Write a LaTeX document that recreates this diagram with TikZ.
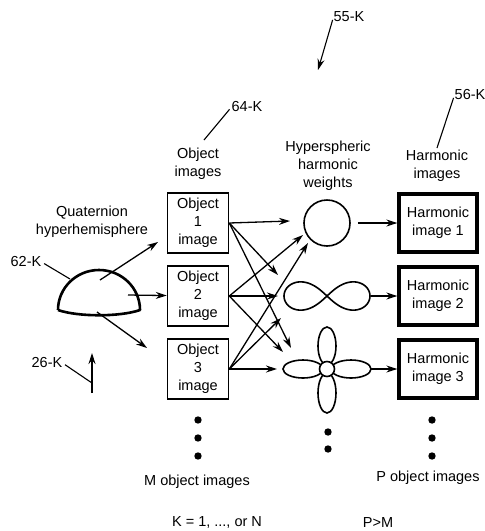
\documentclass[tikz,border=0pt]{standalone}
\usepackage{fontspec}
\setmainfont{Liberation Sans}
\usetikzlibrary{positioning}
\usetikzlibrary{arrows.meta}
\tikzset{
    x=1pt, y=-1pt,
    node distance=73pt,
    >={Stealth[length=11pt,width=7pt]},
    every node/.append style={
        font=\fontsize{14.5}{18}\selectfont,
        align=center,
        inner sep=0pt
    },
    objbox/.style={
        draw,
        line width=1.6pt,
        minimum width=61pt,
        minimum height=60pt
    },
    harmbox/.style={
        draw,
        line width=3.3pt,
        minimum width=78pt,
        minimum height=58pt
    },
    weight/.style={
        minimum width=88pt,
        minimum height=30pt
    },
    every edge/.append style={
        draw,
        ->,
        line width=1.3pt
    },
    leader/.style={
        line width=1.1pt,
        shorten <=3pt
    }
}

\begin{document}
\begin{tikzpicture}
    \useasboundingbox (0,0) rectangle (485,531);

    % object images
    \node[objbox] (o1) at (198,223) {Object\\1\\image};
    \node[objbox, below of=o1] (o2) {Object\\2\\image};
    \node[objbox, below of=o2] (o3) {Object\\3\\image};
    \node (objlabel) at (198,164) {Object\\images};

    % hyperspheric harmonic weights
    \node[draw, circle, minimum size=46pt, line width=1.6pt] (w1) at (327,223) {};
    \node[weight, below of=w1] (w2) {};
    \node[weight, minimum height=88pt, below of=w2] (w3) {};
    \node (wlabel) at (328,166) {Hyperspheric\\harmonic\\weights};

    \draw[line width=1.6pt, shift={(w2.center)}]
        plot[domain=0:357, samples=120, smooth cycle]
        ({43*cos(\x)/(1+sin(\x)*sin(\x))}, {40*sin(\x)*cos(\x)/(1+sin(\x)*sin(\x))});

    \begin{scope}[shift={(w3.center)}, line width=1.6pt]
        \draw[fill=white] (24pt,0pt) ellipse (20pt and 9pt);
        \draw[fill=white] (-24pt,0pt) ellipse (20pt and 9pt);
        \draw[fill=white] (0pt,23pt) ellipse (9pt and 19pt);
        \draw[fill=white] (0pt,-24pt) ellipse (9pt and 20pt);
        \draw[fill=white] (0pt,0pt) circle (7.5pt);
    \end{scope}

    % harmonic images
    \node[harmbox] (hm1) at (438,223) {Harmonic\\image 1};
    \node[harmbox, below of=hm1] (hm2) {Harmonic\\image 2};
    \node[harmbox, below of=hm2] (hm3) {Harmonic\\image 3};
    \node (hmlabel) at (437,166) {Harmonic\\images};

    % quaternion hyperhemisphere
    \draw[line width=2.6pt, line join=round]
        (58,310) arc[start angle=180, end angle=0, x radius=41pt, y radius=40pt]
        .. controls (120,317) and (78,317) .. (58,310);
    \node (qlabel) at (92,222) {Quaternion\\hyperhemisphere};

    \coordinate (qa) at (100,280);
    \coordinate (qb) at (128,295);
    \coordinate (qc) at (97,312);
    \coordinate (oa) at (158,242);
    \coordinate (oc) at (147,348);
    \draw (qa) edge (oa);
    \draw (qb) edge (o2);
    \draw (qc) edge (oc);

    % object images to weights
    \coordinate (w1a) at (290,221);
    \coordinate (w1b) at (303,235);
    \coordinate (w1c) at (308,243);
    \coordinate (w2a) at (278,275);
    \coordinate (w2b) at (278,296);
    \coordinate (w2c) at (281,318);
    \coordinate (w3a) at (291,348);
    \coordinate (w3b) at (283,352);
    \coordinate (w3c) at (277,369);
    \draw (o1.east) edge (w1a) edge (w2a) edge (w3a);
    \draw (o2.east) edge (w1b) edge (w2b) edge (w3b);
    \draw (o3.east) edge (w1c) edge (w2c) edge (w3c);

    % weights to harmonic images
    \draw (w1) edge[shorten <=7pt] (hm1);
    \draw (w2) edge (hm2);
    \draw (w3) edge (hm3);

    % reference numerals
    \node (l55) at (349,17) {55-K};
    \coordinate (p55) at (318,70);
    \draw (l55.west) edge[shorten <=3pt, line width=1.1pt] (p55);

    \node (l64) at (247,107) {64-K};
    \coordinate (p64) at (204,140);
    \draw[leader] (l64.west) -- (p64);

    \node (l56) at (470,95) {56-K};
    \coordinate (p56) at (437,148);
    \draw[leader] (l56.west) -- (p56);

    \node (l62) at (26,262) {62-K};
    \coordinate (p62) at (70,279);
    \draw[leader] (l62.east) -- (p62);

    \node (l26) at (47,363) {26-K};
    \coordinate (a26) at (92,393);
    \coordinate (b26) at (92,353);
    \coordinate (p26) at (92,383);
    \draw (a26) edge[line width=1.1pt] (b26);
    \draw[leader] (l26.east) -- (p26);

    % more of each
    \fill (198,420) circle (3.7pt) (198,438) circle (3.7pt) (198,456) circle (3.7pt);
    \fill (328,432) circle (3.7pt) (328,449) circle (3.7pt);
    \fill (432,420) circle (3.7pt) (432,438) circle (3.7pt) (432,456) circle (3.7pt);

    \node (mlabel) at (197,482) {M object images};
    \node (plabel) at (428,478) {P object images};
    \node (klabel) at (217,522) {K = 1, ..., or N};
    \node (pmlabel) at (378,523) {P>M};
\end{tikzpicture}
\end{document}
